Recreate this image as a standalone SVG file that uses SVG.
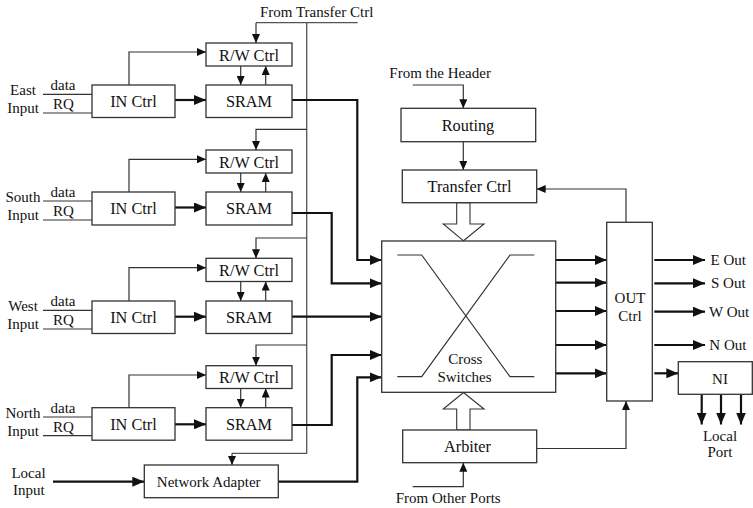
<svg xmlns="http://www.w3.org/2000/svg" width="753" height="508" viewBox="0 0 753 508">
<style>
text{font-family:"Liberation Serif","Times New Roman",serif;fill:#111}
.bl{font-size:16.3px;text-anchor:middle}
.sl{font-size:15px}
.mid{text-anchor:middle}
.box{fill:#fff;stroke:#333;stroke-width:1.3}
.thin{fill:none;stroke:#333;stroke-width:1.2}
.bus{fill:none;stroke:#555;stroke-width:1.3}
.thick{fill:none;stroke:#111;stroke-width:2.2}
.hollow{fill:#fff;stroke:#333;stroke-width:1.1}
</style>
<defs>
<marker id="ah" markerUnits="userSpaceOnUse" markerWidth="12" markerHeight="10" refX="12" refY="5" orient="auto">
<path d="M0,0 L12,5 L0,10 z" fill="#111"/>
</marker>
<marker id="as" markerUnits="userSpaceOnUse" markerWidth="9" markerHeight="8" refX="9" refY="4" orient="auto">
<path d="M0,0 L9,4 L0,8 z" fill="#111"/>
</marker>
</defs>

<g id="connectors">
<!-- top transfer ctrl line and bus -->
<path class="bus" d="M256,22.7 H357.7 M306.7,22.7 V453.3 H232"/>
<path class="thin" d="M256,22.7 V43" marker-end="url(#as)"/>
<path class="thin" d="M306.7,129.3 H256 V150" marker-end="url(#as)"/>
<path class="thin" d="M306.7,238 H256 V258.3" marker-end="url(#as)"/>
<path class="thin" d="M306.7,345 H256 V365.7" marker-end="url(#as)"/>
<path class="thin" d="M232,453.3 V465" marker-end="url(#as)"/>

<!-- row 1 -->
<path class="thin" d="M43,94.3 H92 M43,113 H92"/>
<path class="thin" d="M129,85 V52 H206" marker-end="url(#as)"/>
<path class="thick" d="M175,100 H206" marker-end="url(#ah)"/>
<path class="thin" d="M240.7,66 V85" marker-end="url(#as)"/>
<path class="thin" d="M265.7,85 V66" marker-end="url(#as)"/>
<!-- row 2 -->
<path class="thin" d="M43,201 H92 M43,220 H92"/>
<path class="thin" d="M129,192 V159.3 H206" marker-end="url(#as)"/>
<path class="thick" d="M175,207.5 H206" marker-end="url(#ah)"/>
<path class="thin" d="M240.7,173 V192" marker-end="url(#as)"/>
<path class="thin" d="M265.7,192 V173" marker-end="url(#as)"/>
<!-- row 3 -->
<path class="thin" d="M43,310.3 H92 M43,329 H92"/>
<path class="thin" d="M129,301 V267.7 H206" marker-end="url(#as)"/>
<path class="thick" d="M175,316.7 H206" marker-end="url(#ah)"/>
<path class="thin" d="M240.7,281.5 V301" marker-end="url(#as)"/>
<path class="thin" d="M265.7,301 V281.5" marker-end="url(#as)"/>
<!-- row 4 -->
<path class="thin" d="M43,417 H92 M43,435.7 H92"/>
<path class="thin" d="M129,407.7 V375 H206" marker-end="url(#as)"/>
<path class="thick" d="M175,424.3 H206" marker-end="url(#ah)"/>
<path class="thin" d="M240.7,388.5 V407.7" marker-end="url(#as)"/>
<path class="thin" d="M265.7,407.7 V388.5" marker-end="url(#as)"/>

<!-- local input -->
<path class="thick" d="M53,481.7 H144.3" marker-end="url(#ah)"/>

<!-- SRAM to cross switches -->
<path class="thick" d="M292,100 H357.3 V260 H381.7" marker-end="url(#ah)"/>
<path class="thick" d="M292,213 H331.7 V283.3 H381.7" marker-end="url(#ah)"/>
<path class="thick" d="M292,316.7 H381.7" marker-end="url(#ah)"/>
<path class="thick" d="M292,425 H331.7 V355 H381.7" marker-end="url(#ah)"/>
<path class="thick" d="M278.3,481.7 H357.3 V377.3 H381.7" marker-end="url(#ah)"/>

<!-- header / routing / transfer -->
<path class="thin" d="M412.7,85 H463.3 V108.3" marker-end="url(#as)"/>
<path class="thin" d="M463.3,141.7 V170" marker-end="url(#as)"/>
<polygon class="hollow" points="456.7,202.7 456.7,224 443.3,224 463.5,240.8 484,224 470,224 470,202.7"/>
<polygon class="hollow" points="456.7,430 456.7,409 443.3,409 463.5,392.5 484,409 470,409 470,430"/>
<path class="thin" d="M412.7,486.7 H463.3 V462.7" marker-end="url(#as)"/>

<!-- cross switches to out ctrl -->
<path class="thick" d="M555.7,260 H606.7" marker-end="url(#ah)"/>
<path class="thick" d="M555.7,282.7 H606.7" marker-end="url(#ah)"/>
<path class="thick" d="M555.7,311 H606.7" marker-end="url(#ah)"/>
<path class="thick" d="M555.7,345 H606.7" marker-end="url(#ah)"/>
<path class="thick" d="M555.7,373.3 H606.7" marker-end="url(#ah)"/>

<!-- out ctrl feedback and arbiter -->
<path class="thin" d="M626,222.3 V189 H536.7" marker-end="url(#as)"/>
<path class="thin" d="M536.7,448.5 H626 V401" marker-end="url(#as)"/>

<!-- outputs -->
<path class="thick" d="M654.3,260 H705" marker-end="url(#ah)"/>
<path class="thick" d="M654.3,283.3 H705" marker-end="url(#ah)"/>
<path class="thick" d="M654.3,311.7 H705" marker-end="url(#ah)"/>
<path class="thick" d="M654.3,345 H705" marker-end="url(#ah)"/>
<path class="thick" d="M654.3,373.3 H678.3" marker-end="url(#ah)"/>
<path class="thick" d="M701.7,394.3 V424.5" marker-end="url(#ah)"/>
<path class="thick" d="M721,394.3 V424.5" marker-end="url(#ah)"/>
<path class="thick" d="M741,394.3 V424.5" marker-end="url(#ah)"/>
</g>

<g id="labels">
<text class="sl" x="260" y="17">From Transfer Ctrl</text>
<text class="sl mid" x="23" y="95">East</text>
<text class="sl mid" x="23" y="113">Input</text>
<text class="sl mid" x="63" y="90">data</text>
<text class="sl mid" x="63.5" y="109">RQ</text>
<text class="sl mid" x="23" y="201.7">South</text>
<text class="sl mid" x="23" y="220">Input</text>
<text class="sl mid" x="63" y="196.7">data</text>
<text class="sl mid" x="63.5" y="215.7">RQ</text>
<text class="sl mid" x="23" y="311">West</text>
<text class="sl mid" x="23" y="329">Input</text>
<text class="sl mid" x="63" y="306">data</text>
<text class="sl mid" x="63.5" y="325">RQ</text>
<text class="sl mid" x="23" y="417.7">North</text>
<text class="sl mid" x="23" y="435.7">Input</text>
<text class="sl mid" x="63" y="412.7">data</text>
<text class="sl mid" x="63.5" y="431.7">RQ</text>
<text class="sl mid" x="28.5" y="478.3">Local</text>
<text class="sl mid" x="28.8" y="495">Input</text>
<text class="sl" x="389.3" y="78.3">From the Header</text>
<text class="sl" x="395.7" y="502.5">From Other Ports</text>
<text class="sl" x="710.5" y="265">E Out</text>
<text class="sl" x="711" y="288.3">S Out</text>
<text class="sl" x="709" y="316.7">W Out</text>
<text class="sl" x="709.3" y="350">N Out</text>
<text class="sl mid" x="720" y="440.7">Local</text>
<text class="sl mid" x="720" y="457.3">Port</text>
</g>

<g id="rw1"><rect class="box" x="206" y="43" width="86" height="23"/><text class="bl" x="249" y="60.7">R/W Ctrl</text></g>
<g id="sram1"><rect class="box" x="206" y="85" width="86" height="32.5"/><text class="bl" x="249" y="107.3">SRAM</text></g>
<g id="in1"><rect class="box" x="92" y="85" width="83" height="32.5"/><text class="bl" x="133.5" y="107.3">IN Ctrl</text></g>

<g id="rw2"><rect class="box" x="206" y="150" width="86" height="23"/><text class="bl" x="249" y="167.7">R/W Ctrl</text></g>
<g id="sram2"><rect class="box" x="206" y="192" width="86" height="33"/><text class="bl" x="249" y="214.3">SRAM</text></g>
<g id="in2"><rect class="box" x="92" y="192" width="83" height="33"/><text class="bl" x="133.5" y="214.3">IN Ctrl</text></g>

<g id="rw3"><rect class="box" x="206" y="258.3" width="86" height="23.2"/><text class="bl" x="249" y="276">R/W Ctrl</text></g>
<g id="sram3"><rect class="box" x="206" y="301" width="86" height="32.5"/><text class="bl" x="249" y="323.3">SRAM</text></g>
<g id="in3"><rect class="box" x="92" y="301" width="83" height="32.5"/><text class="bl" x="133.5" y="323.3">IN Ctrl</text></g>

<g id="rw4"><rect class="box" x="206" y="365.7" width="86" height="22.8"/><text class="bl" x="249" y="383.3">R/W Ctrl</text></g>
<g id="sram4"><rect class="box" x="206" y="407.7" width="86" height="32.5"/><text class="bl" x="249" y="430">SRAM</text></g>
<g id="in4"><rect class="box" x="92" y="407.7" width="83" height="32.5"/><text class="bl" x="133.5" y="430">IN Ctrl</text></g>

<g id="network-adapter"><rect class="box" x="144.3" y="465" width="134" height="32.7"/><text class="sl mid" x="208.7" y="487">Network Adapter</text></g>

<g id="routing"><rect class="box" x="401" y="108.3" width="134.7" height="33.4"/><text class="bl" x="468" y="131">Routing</text></g>
<g id="transfer-ctrl"><rect class="box" x="402.3" y="170" width="134.4" height="32.7"/><text class="bl" x="469.5" y="192.3">Transfer Ctrl</text></g>

<g id="cross-switches">
<rect class="box" x="381.7" y="241" width="174" height="151.3"/>
<path class="thin" stroke-width="1" d="M397.3,255 H421.7 L510,376.7 H534.3 M534.3,255 H510 L421.7,376.7 H397.3"/>
<text class="sl mid" x="465.3" y="363.5">Cross</text>
<text class="sl mid" x="464.5" y="381.5">Switches</text>
</g>

<g id="arbiter"><rect class="box" x="402.7" y="430" width="134" height="32.7"/><text class="bl" x="467.5" y="452">Arbiter</text></g>

<g id="out-ctrl"><rect class="box" x="606.7" y="222.3" width="45.6" height="178.7"/><text class="sl mid" x="630" y="302.7">OUT</text><text class="sl mid" x="630" y="320.7">Ctrl</text></g>

<g id="ni"><rect class="box" x="678.3" y="361.7" width="74" height="32.6"/><text class="sl mid" x="720" y="384">NI</text></g>
</svg>
